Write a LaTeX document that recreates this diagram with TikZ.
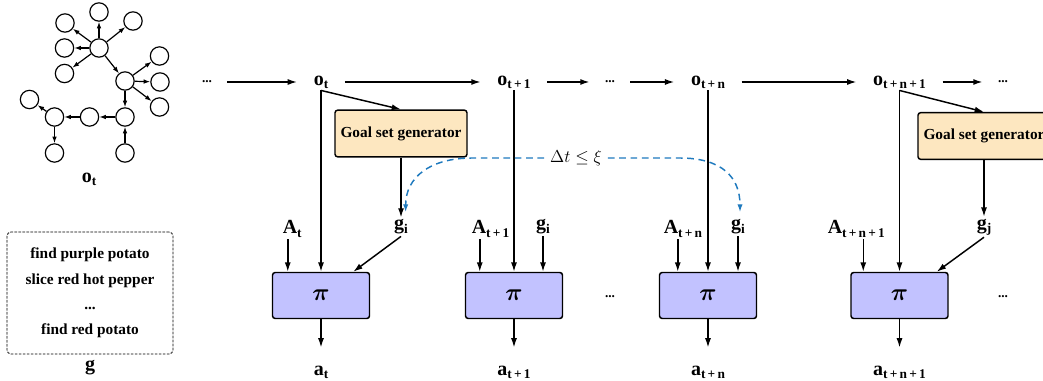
\documentclass[tikz,border=0pt]{standalone}
\usepackage{fix-cm}
\usepackage{amsmath}
\usepackage{fontspec}
\setmainfont{Liberation Serif}
\usepackage{xcolor}
\usepackage{tikz}
\usetikzlibrary{arrows.meta,positioning}

\definecolor{goalfill}{RGB}{253,231,192}
\definecolor{pifill}{RGB}{194,194,255}
\definecolor{gapblue}{RGB}{31,122,190}

% label with lowered subscript
\newcommand{\lbl}[2]{#1\raisebox{-0.35ex}{\fontsize{10}{10}\selectfont #2}}
% same, but centred on the main letter only
\newcommand{\lblr}[2]{#1\rlap{\raisebox{-0.35ex}{\fontsize{10}{10}\selectfont #2}}}

\begin{document}
\begin{tikzpicture}[x=0.75pt,y=-0.75pt,line width=1.1pt,>={Latex[length=7pt,width=4.5pt]},
	lab/.style={font=\bfseries\fontsize{15}{16}\selectfont,inner sep=1pt},
	dotsx/.style={font=\bfseries\fontsize{10}{10}\selectfont,inner sep=0pt},
	goalbox/.style={draw,rounded corners=2pt,fill=goalfill,minimum width=99pt,minimum height=35pt,inner sep=2pt,font=\bfseries\fontsize{11.5}{13}\selectfont},
	pibox/.style={draw,rounded corners=2pt,fill=pifill,minimum width=72.75pt,minimum height=34.5pt,font=\fontsize{18}{20}\selectfont},
	obj/.style={circle,draw,line width=0.9pt,minimum size=13.75pt,inner sep=0pt},
	link/.style={->,line width=0.9pt,>={Latex[length=5pt,width=3.5pt]}},
	hop/.style={->,shorten <=11pt,shorten >=11pt},
	gapflow/.style={->,gapblue,dash pattern=on 5pt off 3.5pt,line width=1.1pt,>={Latex[length=6pt,width=4pt]}}]
	
	\clip (0,0) rectangle (1043,381);
	
	% observation graph
	\node[obj] (hub) at (99,48) {};
	\node[obj] (n1) at (65,23) {};
	\node[obj] (n2) at (99,12) {};
	\node[obj] (n3) at (133,21) {};
	\node[obj] (n4) at (64.5,48) {};
	\node[obj] (n5) at (64.5,73.5) {};
	\node[obj] (mid) at (125,81) {};
	\node[obj] (n6) at (159.5,56) {};
	\node[obj] (n7) at (160,82) {};
	\node[obj] (n8) at (159.5,107) {};
	\node[obj] (low) at (125,117) {};
	\node[obj] (lc) at (89.5,117) {};
	\node[obj] (ll) at (54.5,117) {};
	\node[obj] (n9) at (29.5,99.5) {};
	\node[obj] (n10) at (54.5,153) {};
	\node[obj] (n11) at (125,153) {};
	\foreach \a/\b in {hub/n1,hub/n2,hub/n3,hub/n4,hub/n5,hub/mid,mid/n6,mid/n7,mid/n8,mid/low,low/lc,lc/ll,ll/n9,ll/n10,n11/low}
	\draw[link] (\a) -- (\b);
	\node[lab] (ot0) at (89,179) {\lbl{o}{t}};
	
	% goal list
	\node[draw,dash pattern=on 2pt off 1pt,line width=0.6pt,rounded corners=3pt,minimum width=124.5pt,minimum height=91.5pt,align=center,font=\bfseries\fontsize{11.5}{19}\selectfont] (glist) at (90,293)
	{find purple potato\\slice red hot pepper\\...\\find red potato};
	\node[lab] (gset) at (90,368) {g};
	
	% observations
	\node[dotsx] (d0) at (207,82) {...};
	\node[lab] (ot) at (321,82) {\lbl{o}{t}};
	\node[lab] (o1) at (514,82) {\lbl{o}{t\,+\,1}};
	\node[dotsx] (d1) at (610,82) {...};
	\node[lab] (on) at (708,82) {\lbl{o}{t\,+\,n}};
	\node[lab] (on1) at (899.5,82) {\lbl{o}{t\,+\,n\,+\,1}};
	\node[dotsx] (d2) at (1003,82) {...};
	\draw[hop] (d0) -- (ot);
	\draw[hop] (ot) -- (o1);
	\draw[hop] (o1) -- (d1);
	\draw[hop] (d1) -- (on);
	\draw[hop] (on) -- (on1);
	\draw[hop] (on1) -- (d2);
	
	% goal set generators
	\node[goalbox] (gen1) at (401,133.5) {Goal set generator};
	\node[goalbox] (gen2) at (984,136) {Goal set generator};
	
	% policies
	\node[pibox] (pi1) at (321,295.5) {$\boldsymbol{\pi}$};
	\node[pibox] (pi2) at (514,295.5) {$\boldsymbol{\pi}$};
	\node[pibox] (pi3) at (708,295.5) {$\boldsymbol{\pi}$};
	\node[pibox] (pi4) at (899.5,295.5) {$\boldsymbol{\pi}$};
	\node[dotsx] (d3) at (610,297) {...};
	\node[dotsx] (d4) at (1003,297) {...};
	
	% inputs
	\node[lab] (At) at (290,229) {\lblr{A}{t}};
	\node[lab] (At1) at (479,229) {\lblr{A}{t\,+\,1}};
	\node[lab] (Atn) at (671,229) {\lblr{A}{t\,+\,n}};
	\node[lab] (Atn1) at (835,229) {\lblr{A}{t\,+\,n\,+\,1}};
	\node[lab] (gi1) at (401,227) {\lbl{g}{i}};
	\node[lab] (gi2) at (543,227) {\lbl{g}{i}};
	\node[lab] (gi3) at (738,227) {\lbl{g}{i}};
	\node[lab] (gj) at (984,227) {\lbl{g}{j}};
	
	% actions
	\node[lab] (at) at (321,372) {\lbl{a}{t}};
	\node[lab] (at1) at (514,372) {\lbl{a}{t\,+\,1}};
	\node[lab] (atn) at (708,372) {\lbl{a}{t\,+\,n}};
	\node[lab] (atn1) at (899.5,372) {\lbl{a}{t\,+\,n\,+\,1}};
	
	\coordinate (ain1) at ([xshift=12pt]pi1.north west);
	\coordinate (ain2) at ([xshift=11.25pt]pi2.north west);
	\coordinate (ain3) at ([xshift=14.25pt]pi3.north west);
	\coordinate (ain4) at ([xshift=9.75pt]pi4.north west);
	
	% step t
	\draw[->] (ot.south) -- (gen1.north);
	\draw[->] (gen1.south) -- (gi1.north);
	\draw[->] (ot.south) -- (ot.south |- pi1.north);
	\draw[->] (ain1 |- At.south) -- (ain1);
	\draw[->] (gi1.south) -- ([xshift=-12.75pt]pi1.north east);
	\draw[->,shorten >=12pt] (pi1.south) -- (at.north);
	
	% step t+1
	\draw[->] (o1.south) -- (o1.south |- pi2.north);
	\draw[->] (ain2 |- At1.south) -- (ain2);
	\draw[->] (gi2.south) -- (gi2.south |- pi2.north);
	\draw[->,shorten >=12pt] (pi2.south) -- (at1.north);
	
	% step t+n
	\draw[->] (on.south) -- (on.south |- pi3.north);
	\draw[->] (ain3 |- Atn.south) -- (ain3);
	\draw[->] (gi3.south) -- (gi3.south |- pi3.north);
	\draw[->,shorten >=12pt] (pi3.south) -- (atn.north);
	
	% step t+n+1
	\draw[->] (on1.south) -- (gen2.north);
	\draw[->] (gen2.south) -- (gj.north);
	\draw[->] (on1.south) -- (on1.south |- pi4.north);
	\draw[->] (ain4 |- Atn1.south) -- (ain4);
	\draw[->] (gj.south) -- ([xshift=-9pt]pi4.north east);
	\draw[->,shorten >=12pt] (pi4.south) -- (atn1.north);
	
	% time gap
	\node[font=\fontsize{13}{15}\selectfont,inner sep=4pt] (dt) at (576,158) {$\Delta t\leq\xi$};
	\draw[gapflow] (dt.west) -- ++(-72,0) .. controls +(-42,0) and +(0,-35) .. ([xshift=3.5pt,yshift=4pt]gi1.north);
	\draw[gapflow] (dt.east) -- ++(72,0) .. controls +(42,0) and +(0,-35) .. ([xshift=1.5pt,yshift=4pt]gi3.north);
\end{tikzpicture}
\end{document}
